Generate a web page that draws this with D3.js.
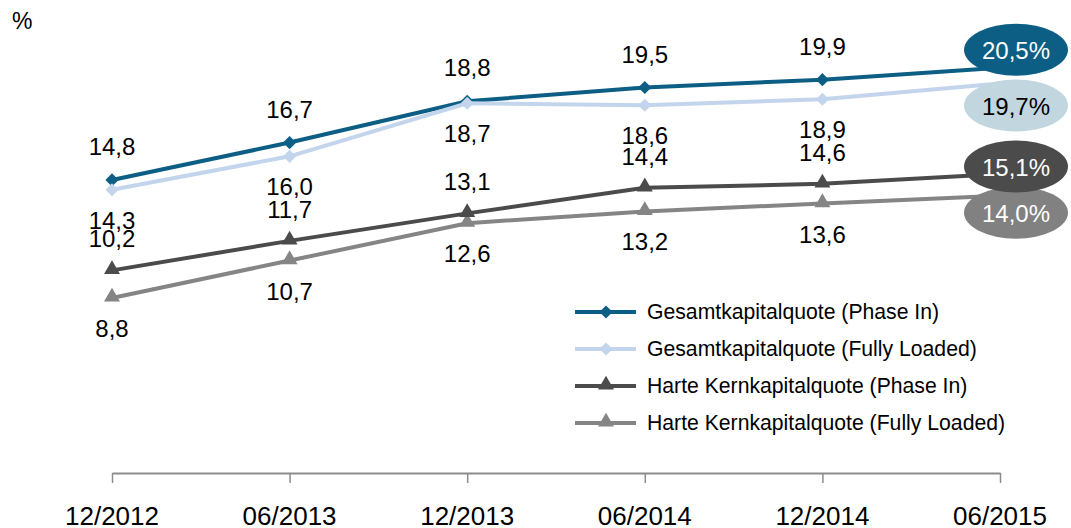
<!DOCTYPE html>
<html><head><meta charset="utf-8">
<script src="https://cdn.jsdelivr.net/npm/d3@7"></script>
<style>body{margin:0;background:#fff}svg{display:block;font-family:"Liberation Sans",Arial,sans-serif}</style>
</head><body><svg id="c" width="1071" height="528"></svg>
<script>
const categories = ["12/2012","06/2013","12/2013","06/2014","12/2014","06/2015"];
const gesamtPhaseIn = [14.8,16.7,18.8,19.5,19.9,20.5];
const gesamtFully = [14.3,16.0,18.7,18.6,18.9,19.7];
const harteP = [10.2,11.7,13.1,14.4,14.6,15.1];
const harteFully = [8.8,10.7,12.6,13.2,13.6,14.0];
const seriesNames = ["Gesamtkapitalquote (Phase In)","Gesamtkapitalquote (Fully Loaded)","Harte Kernkapitalquote (Phase In)","Harte Kernkapitalquote (Fully Loaded)"];
const yUnit = "%";

const fmt = v => v.toFixed(1).replace(".", ",");
const svg = d3.select("#c");
const x = d3.scalePoint().domain(categories).range([112, 1000]);
const y = d3.scaleLinear().domain([0, 24]).range([471, -1]);

const series = [
  {name: seriesNames[0], values: gesamtPhaseIn, color: "#0d5e84", marker: "diamond", off: -25, ell: {fill: "#0d5e84", text: "#fff", dy: -18}},
  {name: seriesNames[1], values: gesamtFully, color: "#c3d5ec", marker: "diamond", off: 39, ell: {fill: "#c2d6df", text: "#000", dy: 22}},
  {name: seriesNames[2], values: harteP, color: "#4b4b4b", marker: "triangle", off: -23, ell: {fill: "#4b4b4b", text: "#fff", dy: -7.5}},
  {name: seriesNames[3], values: harteFully, color: "#858585", marker: "triangle", off: 39, ell: {fill: "#818181", text: "#fff", dy: 17}}
];

// axis
const axis = d3.axisBottom(x).tickSize(10).tickSizeOuter(0).tickFormat(() => "");
const ag = svg.append("g").attr("transform", "translate(0,473)").call(axis);
ag.select(".domain").attr("stroke", "#8c8c8c").attr("stroke-width", 2);
ag.selectAll(".tick line").attr("stroke", "#8c8c8c").attr("stroke-width", 1.5);
svg.append("g").selectAll("text").data(categories).join("text")
  .attr("x", d => x(d)).attr("y", 525).attr("text-anchor", "middle")
  .attr("font-size", 26).attr("fill", "#000").text(d => d);

svg.append("text").attr("x", 12).attr("y", 29).attr("font-size", 23).text(yUnit);

const sym = {
  diamond: d3.symbol().type(d3.symbolDiamond2).size(110),
  triangle: d3.symbol().type(d3.symbolTriangle).size(110)
};
const line = d3.line().x((d, i) => x(categories[i])).y(d => y(d));

const drawOrder = [3, 2, 0, 1];
drawOrder.forEach(k => {
  const s = series[k];
  const g = svg.append("g");
  g.append("path").attr("d", line(s.values)).attr("fill", "none")
    .attr("stroke", s.color).attr("stroke-width", 4);
  g.selectAll("path.m").data(s.values.slice(0, -1)).join("path").attr("class", "m")
    .attr("d", sym[s.marker])
    .attr("transform", (d, i) => `translate(${x(categories[i])},${y(d) + (s.marker === "triangle" ? -1 : 0)})`)
    .attr("fill", s.color);
});
// data labels
series.forEach(s => {
  svg.append("g").selectAll("text").data(s.values.slice(0, -1)).join("text")
    .attr("x", (d, i) => x(categories[i])).attr("y", d => y(d) + s.off)
    .attr("text-anchor", "middle").attr("font-size", 24).attr("fill", "#000")
    .text(d => fmt(d));
});
// end ellipses
[3, 2, 1, 0].forEach(k => {
  const s = series[k];
  const last = s.values[s.values.length - 1];
  const cx = x(categories[categories.length - 1]) + 16;
  const cy = y(last) + s.ell.dy;
  svg.append("ellipse").attr("cx", cx).attr("cy", cy).attr("rx", 52).attr("ry", 26).attr("fill", s.ell.fill);
  svg.append("text").attr("x", cx).attr("y", cy + 9).attr("text-anchor", "middle")
    .attr("font-size", 24).attr("fill", s.ell.text).text(fmt(last) + "%");
});

// legend
const lg = svg.append("g").attr("transform", "translate(575,312)");
series.forEach((s, i) => {
  const r = lg.append("g").attr("transform", `translate(0,${i * 37})`);
  r.append("line").attr("x1", 0).attr("x2", 61).attr("stroke", s.color).attr("stroke-width", 4);
  r.append("path").attr("d", sym[s.marker]).attr("transform", `translate(31,${s.marker === "triangle" ? -1 : 0})`).attr("fill", s.color);
  r.append("text").attr("x", 72).attr("y", 7).attr("font-size", 21.2).attr("fill", "#000").text(s.name);
});
</script></body></html>
